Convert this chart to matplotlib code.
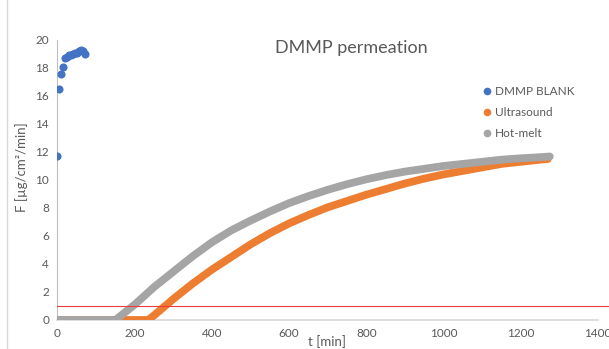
import matplotlib.pyplot as plt
from matplotlib.lines import Line2D

plt.rcParams['font.family'] = ['Lato', 'DejaVu Sans']

# DMMP blank (free diffusion), minutes vs flux
blank_t = [0, 5, 10, 15, 20, 25, 30, 35, 40, 45, 50, 55, 60, 65, 70]
blank_f = [11.7, 16.5, 17.6, 18.1, 18.7, 18.8, 18.9, 18.95, 19.0, 19.1, 19.1, 19.2, 19.3, 19.2, 19.0]

# Ultrasound membrane
us_t = [0, 100, 200, 235, 250, 300, 350, 400, 450, 500, 550, 600, 650, 700, 750,
        800, 850, 900, 950, 1000, 1050, 1100, 1150, 1200, 1250, 1270]
us_f = [0, 0, 0, 0, 0.33, 1.5, 2.6, 3.6, 4.5, 5.4, 6.2, 6.9, 7.5, 8.05, 8.5,
        8.95, 9.35, 9.75, 10.1, 10.4, 10.65, 10.9, 11.15, 11.3, 11.45, 11.5]

# Hot-melt membrane
hm_t = [0, 50, 100, 150, 200, 250, 300, 350, 400, 450, 500, 550, 600, 650, 700,
        750, 800, 850, 900, 950, 1000, 1050, 1100, 1150, 1200, 1250, 1275]
hm_f = [0, 0, 0, 0, 1.1, 2.35, 3.45, 4.55, 5.55, 6.4, 7.1, 7.75, 8.35, 8.85, 9.3,
        9.7, 10.05, 10.35, 10.6, 10.8, 11.0, 11.15, 11.3, 11.45, 11.55, 11.63, 11.68]

limit = 1.0

blue = '#4472C4'
orange = '#ED7D31'
gray = '#A5A5A5'
txt = '#595959'

fig = plt.figure(figsize=(6.09, 3.49), dpi=100)
ax = fig.add_axes([0.0944, 0.0831, 0.8876, 0.8023])

ax.scatter(blank_t, blank_f, s=34, color=blue, zorder=3, linewidths=0)
ax.plot(us_t, us_f, color=orange, lw=5.6, solid_capstyle='round', zorder=3)
ax.plot(hm_t, hm_f, color=gray, lw=5.6, solid_capstyle='round', zorder=4)
ax.axhline(limit, xmin=0, xmax=1.03, color='#f03c3c', lw=0.8, clip_on=False, zorder=5)

ax.set_xlim(0, 1400)
ax.set_ylim(0, 20)
ax.set_xticks(range(0, 1401, 200))
ax.set_yticks(range(0, 21, 2))
ax.tick_params(length=0, labelsize=8.5, colors=txt, pad=6)
for s in ['top', 'right']:
    ax.spines[s].set_visible(False)
ax.spines['left'].set_color('#bfbfbf')
ax.spines['bottom'].set_color('#d9d9d9')
ax.spines['left'].set_linewidth(0.8)
ax.spines['bottom'].set_linewidth(1.2)

fig.text(0.577, 0.862, 'DMMP permeation', ha='center', va='center', fontsize=13, color=txt)
fig.text(0.036, 0.52, 'F [µg/cm²/min]', rotation=90, ha='center', va='center',
         fontsize=9.5, color=txt)
fig.text(0.537, 0.022, 't [min]', ha='center', va='center', fontsize=9.5, color=txt)

handles = [Line2D([], [], ls='', marker='o', ms=5.5, color=c, mec='none')
           for c in (blue, orange, gray)]
fig.legend(handles, ['DMMP BLANK', 'Ultrasound', 'Hot-melt'], loc='upper left',
           bbox_to_anchor=(0.77, 0.785), frameon=False, fontsize=8.5,
           labelcolor=txt, handletextpad=0.1, handlelength=1.2, labelspacing=0.85)

# chart border on the left
fig.add_artist(Line2D([0.012, 0.012], [0, 1], color='#d9d9d9', lw=1))

fig.savefig('out.png', dpi=100)
